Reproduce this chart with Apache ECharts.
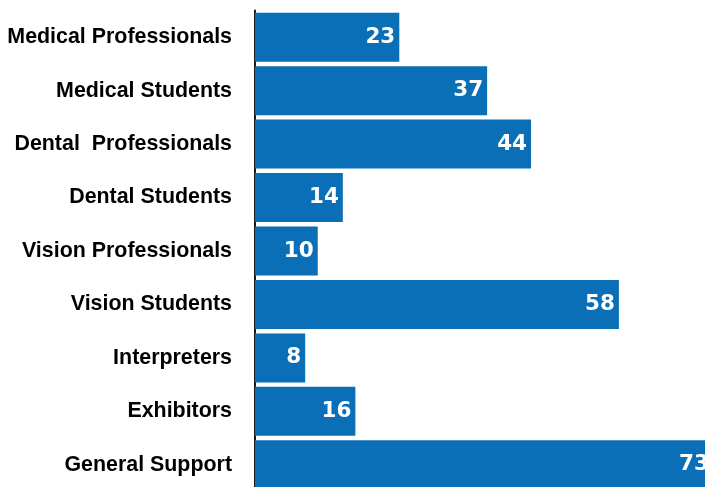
<!DOCTYPE html>
<html>
<head>
<meta charset="utf-8">
<script src="https://cdn.jsdelivr.net/npm/echarts@6/dist/echarts.min.js"></script>
<style>
html,body{margin:0;padding:0;background:#fff;}
#c{width:705px;height:487px;}
</style>
</head>
<body>
<div id="c"></div>
<script>
var categories = ["Medical Professionals","Medical Students","Dental  Professionals","Dental Students","Vision Professionals","Vision Students","Interpreters","Exhibitors","General Support"];
var values = [23,37,44,14,10,58,8,16,73];

var chart = echarts.init(document.getElementById('c'), null, {renderer:'canvas'});
chart.setOption({
  animation:false,
  grid:{left:255, top:10.5, width:458, height:481, containLabel:false, outerBoundsMode:'none'},
  xAxis:{type:'value', min:0, max:73, show:false},
  yAxis:{
    type:'category', data:categories, inverse:true,
    axisLine:{show:true, lineStyle:{color:'#1a1a1a', width:2}},
    axisTick:{show:false},
    axisLabel:{color:'#000', fontFamily:'Liberation Sans', fontWeight:'bold', fontSize:21.4, margin:23}
  },
  series:[{
    type:'bar', data:values, barWidth:49,
    itemStyle:{color:'#0b6fb7'},
    label:{show:true, position:'insideRight', distance:4, color:'#fff', fontFamily:'DejaVu Sans', fontWeight:'bold', fontSize:21.5}
  }]
});
</script>
</body>
</html>
